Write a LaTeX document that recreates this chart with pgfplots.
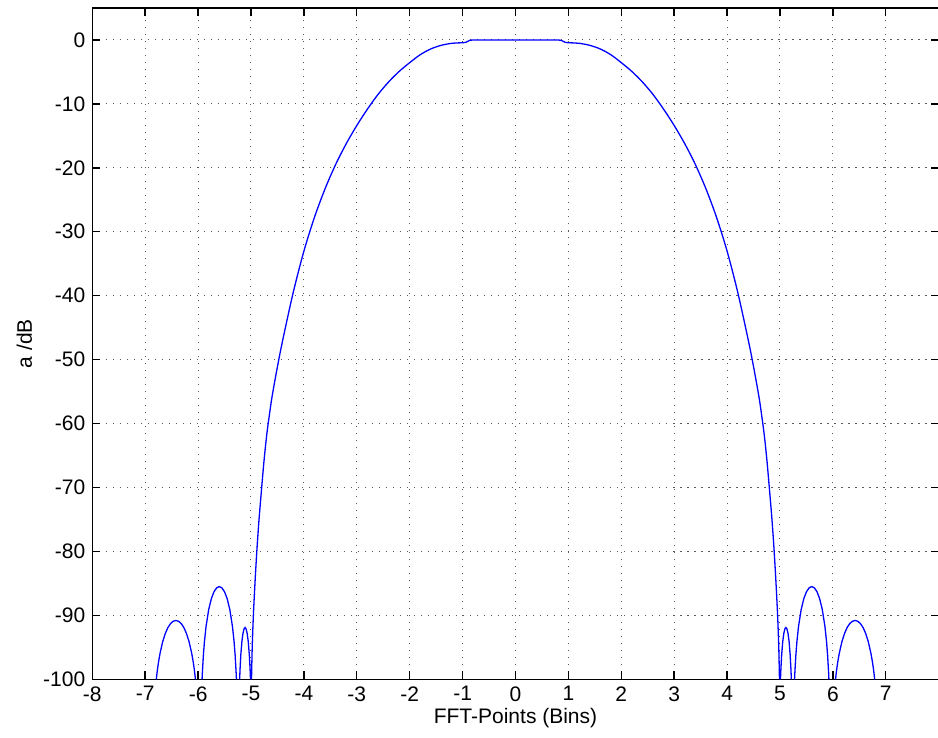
\documentclass[border=0pt]{standalone}
\usepackage{fontspec}
\setmainfont{Liberation Sans}
\usepackage{pgfplots}
\pgfplotsset{compat=1.18}

\begin{document}
\begin{tikzpicture}
\begin{axis}[
    at={(0,0)}, anchor=south west,
    scale only axis,
    width=423.2pt, height=335.65pt,
    xmin=-8, xmax=8,
    ymin=-100, ymax=5,
    xtick={-8,-7,...,7},
    ytick={-100,-90,...,0},
    grid=major,
    grid style={black!65, line width=0.5pt, dash pattern=on 0.6pt off 2.9pt},
    axis line style={line width=0.7pt},
    tick style={line width=0.7pt, black},
    tick align=inside,
    major tick length=4pt,
    /pgf/number format/assume math mode=true,
    tick label style={font=\fontsize{10.5}{12}\selectfont},
    label style={font=\fontsize{10.5}{12}\selectfont},
    xlabel={FFT-Points (Bins)},
    ylabel={a /dB},
    xlabel style={at={(axis description cs:0.5,-0.0576)}, anchor=center},
    ylabel style={at={(axis description cs:-0.0803,0.5)}, anchor=center},
    trace/.style={blue, line width=0.65pt, mark=none},
]
% main lobe: left flank, flat top, right flank
\addplot[trace, smooth, tension=0.5] coordinates {
(-4.99,-100)(-4.977,-95)(-4.955,-90)(-4.925,-85)(-4.89,-80)(-4.85,-75.2)(-4.80,-70.2)
(-4.75,-65.5)(-4.70,-61.6)(-4.65,-58.5)(-4.6,-55.7)(-4.5,-51.1)(-4.4,-46.93)(-4.2,-39.43)
(-4.0,-33.03)(-3.8,-27.73)(-3.6,-23.28)(-3.4,-19.48)(-3.2,-16.23)(-3.0,-13.38)(-2.8,-10.83)
(-2.6,-8.53)(-2.4,-6.58)(-2.2,-4.93)(-2.0,-3.55)(-1.8,-2.3)(-1.6,-1.4)(-1.4,-0.83)
(-1.2,-0.52)(-1.05,-0.45)(-0.95,-0.4)
};
\addplot[trace] coordinates {
(-0.95,-0.4)(-0.86,-0.05)(-0.8,0)(0,0)(0.8,0)(0.86,-0.05)(0.95,-0.4)
};
\addplot[trace, smooth, tension=0.5] coordinates {
(0.95,-0.4)(1.05,-0.45)(1.2,-0.52)(1.4,-0.83)(1.6,-1.4)(1.8,-2.3)(2.0,-3.55)(2.2,-4.93)
(2.4,-6.58)(2.6,-8.53)(2.8,-10.83)(3.0,-13.38)(3.2,-16.23)(3.4,-19.48)(3.6,-23.28)
(3.8,-27.73)(4.0,-33.03)(4.2,-39.43)(4.4,-46.93)(4.5,-51.1)(4.6,-55.7)(4.65,-58.5)
(4.70,-61.6)(4.75,-65.5)(4.80,-70.2)(4.85,-75.2)(4.89,-80)(4.925,-85)(4.955,-90)
(4.977,-95)(4.99,-100)
};
% side lobes, left
\addplot[trace] coordinates {
(-6.79,-100)(-6.77,-98.57)(-6.75,-97.40)(-6.72,-95.97)(-6.67,-94.14)(-6.62,-92.83)
(-6.57,-91.90)(-6.52,-91.28)(-6.47,-90.92)(-6.42,-90.8)(-6.37,-90.92)(-6.32,-91.28)
(-6.27,-91.90)(-6.22,-92.83)(-6.17,-94.14)(-6.12,-95.97)(-6.09,-97.40)(-6.07,-98.57)
(-6.05,-100)
};
\addplot[trace] coordinates {
(-5.925,-100)(-5.92,-99.10)(-5.90,-96.21)(-5.88,-94.10)(-5.85,-91.76)(-5.80,-89.11)
(-5.75,-87.40)(-5.70,-86.31)(-5.65,-85.70)(-5.60,-85.5)(-5.55,-85.70)(-5.50,-86.31)
(-5.45,-87.40)(-5.40,-89.11)(-5.35,-91.76)(-5.32,-94.10)(-5.30,-96.21)(-5.28,-99.10)
(-5.275,-100)
};
\addplot[trace] coordinates {
(-5.2145,-100)(-5.207,-98.43)(-5.192,-96.13)(-5.172,-94.10)(-5.152,-92.83)(-5.132,-92.13)
(-5.112,-91.9)(-5.092,-92.13)(-5.072,-92.83)(-5.052,-94.10)(-5.032,-96.13)(-5.017,-98.43)
(-5.0095,-100)
};
% side lobes, right
\addplot[trace] coordinates {
(5.0095,-100)(5.017,-98.43)(5.032,-96.13)(5.052,-94.10)(5.072,-92.83)(5.092,-92.13)
(5.112,-91.9)(5.132,-92.13)(5.152,-92.83)(5.172,-94.10)(5.192,-96.13)(5.207,-98.43)
(5.2145,-100)
};
\addplot[trace] coordinates {
(5.275,-100)(5.28,-99.10)(5.30,-96.21)(5.32,-94.10)(5.35,-91.76)(5.40,-89.11)
(5.45,-87.40)(5.50,-86.31)(5.55,-85.70)(5.60,-85.5)(5.65,-85.70)(5.70,-86.31)
(5.75,-87.40)(5.80,-89.11)(5.85,-91.76)(5.88,-94.10)(5.90,-96.21)(5.92,-99.10)
(5.925,-100)
};
\addplot[trace] coordinates {
(6.05,-100)(6.07,-98.57)(6.09,-97.40)(6.12,-95.97)(6.17,-94.14)(6.22,-92.83)
(6.27,-91.90)(6.32,-91.28)(6.37,-90.92)(6.42,-90.8)(6.47,-90.92)(6.52,-91.28)
(6.57,-91.90)(6.62,-92.83)(6.67,-94.14)(6.72,-95.97)(6.75,-97.40)(6.77,-98.57)
(6.79,-100)
};
\end{axis}
\pgfresetboundingbox
\path (-46.15pt,-29.35pt) rectangle (422.85pt,339.65pt);
\end{tikzpicture}
\end{document}
